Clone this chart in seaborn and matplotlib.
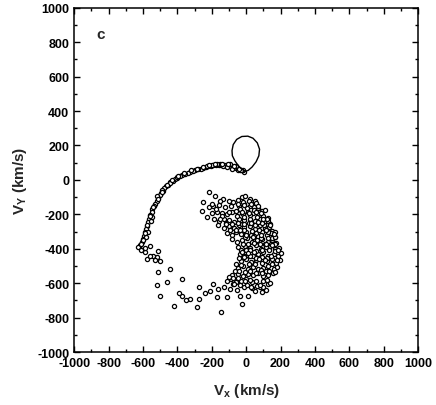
import numpy as np
import pandas as pd
import seaborn as sns
import matplotlib.pyplot as plt
from matplotlib.ticker import MultipleLocator

# closed loop near the origin
loop_x = [-5, -25, -45, -65, -80, -82, -75, -55, -25, 10, 40, 65, 78, 74, 58, 35, 12, -5]
loop_y = [50, 62, 82, 110, 140, 170, 205, 235, 252, 254, 242, 215, 178, 140, 105, 75, 55, 50]

# spiral arm
arm_x = [-10, -20, -35, -50, -60, -75, -90, -100, -115, -130, -145, -160, -175, -190, -205,
         -220, -235, -250, -265, -280, -295, -310, -325, -340, -355, -370, -385, -400, -415,
         -425, -440, -455, -465, -475, -485, -495, -500, -510, -520, -528, -535, -545, -550,
         -560, -565, -572, -578, -582, -588, -592, -598, -605, -615, -626, -610, -590, -577,
         -558, -540, -519, -510, -500, -530, -560, -590, -585, -570, -555, -545, -135, -110,
         -80, -45, -30, -60, -95, -150, -170, -200, -230, -400, -445, -490, -520]
arm_y = [48, 55, 58, 64, 70, 74, 78, 82, 85, 88, 88, 87, 86, 84, 82, 79, 75, 71, 66, 62,
         57, 52, 46, 40, 34, 27, 20, 12, 4, -5, -15, -27, -38, -50, -63, -76, -90, -105,
         -120, -138, -152, -170, -188, -205, -225, -245, -266, -285, -305, -325, -345, -362,
         -380, -391, -405, -420, -459, -382, -440, -450, -411, -470, -465, -445, -395, -330,
         -300, -240, -215, 78, 72, 66, 60, 55, 78, 92, 95, 92, 88, 82, 18, -20, -60, -95]
arm2_x = [-40, -70, -105, -140, -180, -215, -250, -285, -320, -360, -395, -430, -460, -490,
          -515, -540, -560, -575, -590, -600, -612]
arm2_y = [62, 80, 90, 94, 92, 86, 76, 66, 55, 38, 22, -2, -30, -70, -110, -160, -210, -260,
          -310, -350, -370]

# scattered points of the lower arc
low_x = [-442, -510, -374, -461, -519, -500, -374, -393, -422, -326, -273, -273, -285,
         -209, -190, -161, -171, -147, -112, -93, -74, -35, -25, 10, 52, 91, 130, -130,
         -55, -15, 35, -240, -350]
low_y = [-517, -537, -576, -595, -610, -672, -672, -660, -731, -692, -624, -692, -740,
         -643, -605, -634, -680, -769, -680, -634, -605, -672, -721, -672, -643, -653,
         -605, -620, -640, -620, -630, -660, -700]

# dense cluster
clu_x = [-213, -180, -248, -258, -229, -132, -74, -25, 23, 52, -6, -150, -100, -45,
         -215, -190, -160, -120, -90, -40, -10, 20, 45, 70, -200, -170, -140, -110, -80,
         -50, -20, 10, 40, 70, 100,
         -185, -160, -130, -100, -70, -40, -10, 20, 50, 80, 105, 125, -165, -130, -100,
         -70, -40, -10, 20, 50, 80, 110, 135, 150,
         -110, -85, -60, -30, 0, 30, 60, 90, 120, 145, 165, -80, -55, -25, 5, 35, 65, 95,
         125, 150, 175,
         -50, -30, -5, 25, 55, 85, 115, 140, 165, 190, -35, -15, 40, 70, 100, 130, 160,
         185, 205,
         -30, 0, 30, 60, 90, 120, 150, 175, 195, -50, -20, 10, 40, 70, 100, 130, 160, 180,
         -80, -50, -20, 10, 40, 70, 100, 130, 155, -110, -90, -60, -30, 0, 35, 60, 100,
         140, 115, 80, -65, -15]
clu_y = [-68, -91, -130, -179, -217, -110, -130, -101, -110, -120, -91, -125, -120, -115,
         -160, -150, -145, -160, -150, -150, -140, -150, -155, -165, -195, -185, -195, -200,
         -185, -190, -200, -185, -195, -200, -210,
         -230, -240, -225, -235, -245, -225, -235, -230, -240, -225, -245, -240, -265, -280,
         -270, -280, -265, -275, -270, -285, -265, -280, -275, -295,
         -310, -320, -305, -315, -300, -320, -310, -305, -320, -310, -330, -345, -360, -350,
         -340, -360, -350, -345, -360, -350, -365,
         -390, -405, -385, -395, -380, -400, -390, -385, -400, -395, -430, -445, -445, -430,
         -420, -440, -430, -445, -425,
         -470, -460, -475, -465, -480, -470, -460, -480, -465, -510, -500, -515, -505, -520,
         -510, -500, -515, -505,
         -550, -545, -560, -545, -555, -540, -560, -550, -540, -590, -575, -595, -585, -575,
         -595, -590, -585, -600, -640, -620, -530, -440]
clu2_x = [-20, 15, 55, 95, 130,
          -35, 5, 45, 85, 120,
          -55, -15, 25, 65, 105, 140,
          -25, 15, 50, 90, 130, 170,
          -10, 35, 75, 115, 150, 170,
          -5, 45, 85, 110, 145, 170,
          0, 25, 60, 95, 135, 165,
          -40, -10, 20, 55, 90, 120, 150,
          -60, -30, 15, 50, 85, 115,
          -100, -75, -45,
          -140, -115, -175, -200,
          5, 30, 65, 100]
clu2_y = [-130, -125, -135, -180, -220,
          -170, -165, -175, -190, -230,
          -210, -215, -205, -215, -260, -255,
          -255, -250, -260, -250, -300, -300,
          -290, -295, -290, -290, -335, -330,
          -330, -325, -335, -375, -370, -375,
          -410, -410, -415, -410, -410, -415,
          -455, -450, -445, -455, -450, -455, -490,
          -490, -495, -490, -490, -525, -530,
          -565, -570, -570,
          -210, -250, -170, -140,
          -610, -620, -615, -625]
clu3_x = [-45, -10, 30, 70, 110,
          -100, -60, -25, 15, 60, 100, 140,
          -150, -115, -85, -50, -15, 30, 70,
          -95, -60, -35, 0, 40, 85, 125, 160,
          -20, 10, 45, 80, 115, 150, 185,
          -25, 10, 45, 75, 110, 145, 180,
          -40, -5, 25, 60, 95, 135, 165,
          -70, -35, -5, 25, 80, 120]
clu3_y = [-140, -145, -140, -150, -175,
          -185, -180, -185, -190, -185, -230, -265,
          -230, -255, -255, -250, -255, -250, -245,
          -290, -290, -290, -320, -330, -320, -340, -315,
          -370, -375, -365, -370, -375, -380, -410,
          -420, -425, -420, -460, -465, -445, -465,
          -530, -535, -530, -540, -540, -530, -535,
          -605, -610, -590, -580, -610, -580]

pts = pd.DataFrame({
    "vx": arm_x + arm2_x + low_x + clu_x + clu2_x + clu3_x,
    "vy": arm_y + arm2_y + low_y + clu_y + clu2_y + clu3_y,
})
loop = pd.DataFrame({"vx": loop_x, "vy": loop_y})

sns.set_style("ticks")
plt.rcParams["font.family"] = ["Liberation Sans", "DejaVu Sans"]
plt.rcParams["font.weight"] = "bold"
plt.rcParams["axes.unicode_minus"] = False
plt.rcParams["mathtext.fontset"] = "custom"
plt.rcParams["mathtext.rm"] = "Liberation Sans:bold"
plt.rcParams["mathtext.bf"] = "Liberation Sans:bold"

fig = plt.figure(figsize=(4.36, 4.06), dpi=100)
ax = fig.add_axes([0.170, 0.1305, 0.789, 0.848])

sns.lineplot(data=loop, x="vx", y="vy", sort=False, estimator=None, color="black",
             lw=1.0, ax=ax)
sns.scatterplot(data=pts, x="vx", y="vy", marker="o", s=9, facecolor="white",
                edgecolor="black", linewidth=0.9, ax=ax)

ax.set_xlim(-1000, 1000)
ax.set_ylim(-1000, 1000)
ax.xaxis.set_major_locator(MultipleLocator(200))
ax.yaxis.set_major_locator(MultipleLocator(200))
ax.xaxis.set_minor_locator(MultipleLocator(100))
ax.yaxis.set_minor_locator(MultipleLocator(100))
ax.tick_params(which="both", direction="in", top=True, right=True, colors="black",
               labelsize=9, width=1)
ax.tick_params(which="major", length=4.5)
ax.tick_params(which="minor", length=2.5)
for s in ax.spines.values():
    s.set_linewidth(1.1)
    s.set_color("black")
plt.setp(ax.get_xticklabels() + ax.get_yticklabels(), fontweight="bold")

ax.set_xlabel(r"V$_{\rm x}$ (km/s)", fontsize=11, fontweight="bold", labelpad=9)
ax.set_ylabel(r"V$_{\rm Y}$ (km/s)", fontsize=11, fontweight="bold", labelpad=6)
ax.text(-870, 850, "c", fontsize=11, fontweight="bold", va="center")

fig.savefig("out.png", dpi=100)
